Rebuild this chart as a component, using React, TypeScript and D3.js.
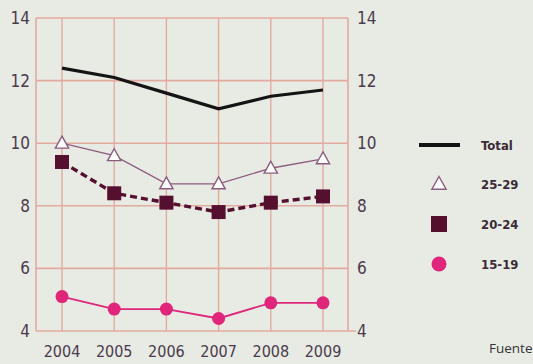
import React from "react";
import * as d3 from "d3";

const years = ["2004", "2005", "2006", "2007", "2008", "2009"];
const totalValues = [12.4, 12.1, 11.6, 11.1, 11.5, 11.7];
const age2529Values = [10.0, 9.6, 8.7, 8.7, 9.2, 9.5];
const age2024Values = [9.4, 8.4, 8.1, 7.8, 8.1, 8.3];
const age1519Values = [5.1, 4.7, 4.7, 4.4, 4.9, 4.9];
const yTicks = [4, 6, 8, 10, 12, 14];
const legendLabels = ["Total", "25-29", "20-24", "15-19"];

const W = 533;
const H = 364;
const left = 36;
const right = 348;
const top = 18;
const bottom = 331;

const GRID = "#e3ab9f";
const TEXT = "#4a3a4c";
const MAROON = "#56102f";
const PINK = "#e0267a";
const TRI = "#8b5c7d";
const FONT = "'DejaVu Sans Condensed', 'Liberation Sans Narrow', Arial, sans-serif";

export default function App() {
  const x = d3.scalePoint<string>().domain(years).range([62, 323]);
  const y = d3.scaleLinear().domain([4, 14]).range([bottom, top]);
  const line = d3
    .line<number>()
    .x((_, i) => x(years[i]) as number)
    .y((d) => y(d));

  const tri = (cx: number, cy: number, s: number) =>
    `M${cx},${cy - s}L${cx + s * 0.95},${cy + s * 0.7}L${cx - s * 0.95},${cy + s * 0.7}Z`;

  const legendY = [145, 184, 224, 264];

  return (
    <svg
      width={W}
      height={H}
      style={{ position: "absolute", left: 0, top: 0, background: "#e8ebe4" }}
    >
      <rect x={0} y={0} width={W} height={H} fill="#e8ebe4" />
      {yTicks.map((t) => (
        <line
          key={"h" + t}
          x1={left}
          x2={t === 4 ? 356 : right}
          y1={y(t)}
          y2={y(t)}
          stroke={GRID}
          strokeWidth={1.6}
        />
      ))}
      {years.map((yr) => (
        <line
          key={"v" + yr}
          x1={x(yr)}
          x2={x(yr)}
          y1={top}
          y2={bottom}
          stroke={GRID}
          strokeWidth={1.4}
        />
      ))}
      <line x1={left} x2={left} y1={top} y2={bottom} stroke={GRID} strokeWidth={1.6} />
      <line x1={right} x2={right} y1={top} y2={bottom} stroke={GRID} strokeWidth={1.6} />

      {yTicks.map((t) => (
        <g key={"l" + t}>
          <text
            x={30}
            y={y(t) + 6}
            textAnchor="end"
            fontFamily={FONT}
            fontSize={17}
            fill={TEXT}
          >
            {t}
          </text>
          <text
            x={357}
            y={y(t) + 6}
            textAnchor="start"
            fontFamily={FONT}
            fontSize={17}
            fill={TEXT}
          >
            {t}
          </text>
        </g>
      ))}
      {years.map((yr) => (
        <text
          key={"x" + yr}
          x={x(yr)}
          y={357}
          textAnchor="middle"
          fontFamily={FONT}
          fontSize={16}
          fill={TEXT}
        >
          {yr}
        </text>
      ))}

      <path d={line(totalValues) || ""} fill="none" stroke="#141414" strokeWidth={3.2} />
      <path d={line(age2529Values) || ""} fill="none" stroke={TRI} strokeWidth={1.3} />
      {age2529Values.map((v, i) => (
        <path
          key={"t" + i}
          d={tri(x(years[i]) as number, y(v), 7)}
          fill="#ffffff"
          stroke={TRI}
          strokeWidth={1.4}
        />
      ))}
      <path
        d={line(age2024Values) || ""}
        fill="none"
        stroke={MAROON}
        strokeWidth={3.4}
        strokeDasharray="7,4"
      />
      {age2024Values.map((v, i) => (
        <rect
          key={"s" + i}
          x={(x(years[i]) as number) - 7}
          y={y(v) - 7}
          width={14}
          height={14}
          fill={MAROON}
        />
      ))}
      <path d={line(age1519Values) || ""} fill="none" stroke={PINK} strokeWidth={1.8} />
      {age1519Values.map((v, i) => (
        <circle key={"c" + i} cx={x(years[i])} cy={y(v)} r={6.5} fill={PINK} />
      ))}

      <line x1={419} x2={460} y1={legendY[0]} y2={legendY[0]} stroke="#141414" strokeWidth={4} />
      <path d={tri(439, legendY[1], 7.5)} fill="#ffffff" stroke={TRI} strokeWidth={1.4} />
      <rect x={431} y={legendY[2] - 8} width={16} height={16} fill={MAROON} />
      <circle cx={439} cy={legendY[3]} r={7.5} fill={PINK} />
      {legendLabels.map((lb, i) => (
        <text
          key={"lg" + i}
          x={481}
          y={legendY[i] + 5}
          fontFamily={FONT}
          fontSize={13}
          fontWeight="bold"
          fill="#3a2a36"
        >
          {lb}
        </text>
      ))}
      <text
        x={489}
        y={353}
        fontFamily="'Open Sans', 'DejaVu Sans', sans-serif"
        fontSize={13.5}
        fill="#333333"
      >
        Fuente
      </text>
    </svg>
  );
}
